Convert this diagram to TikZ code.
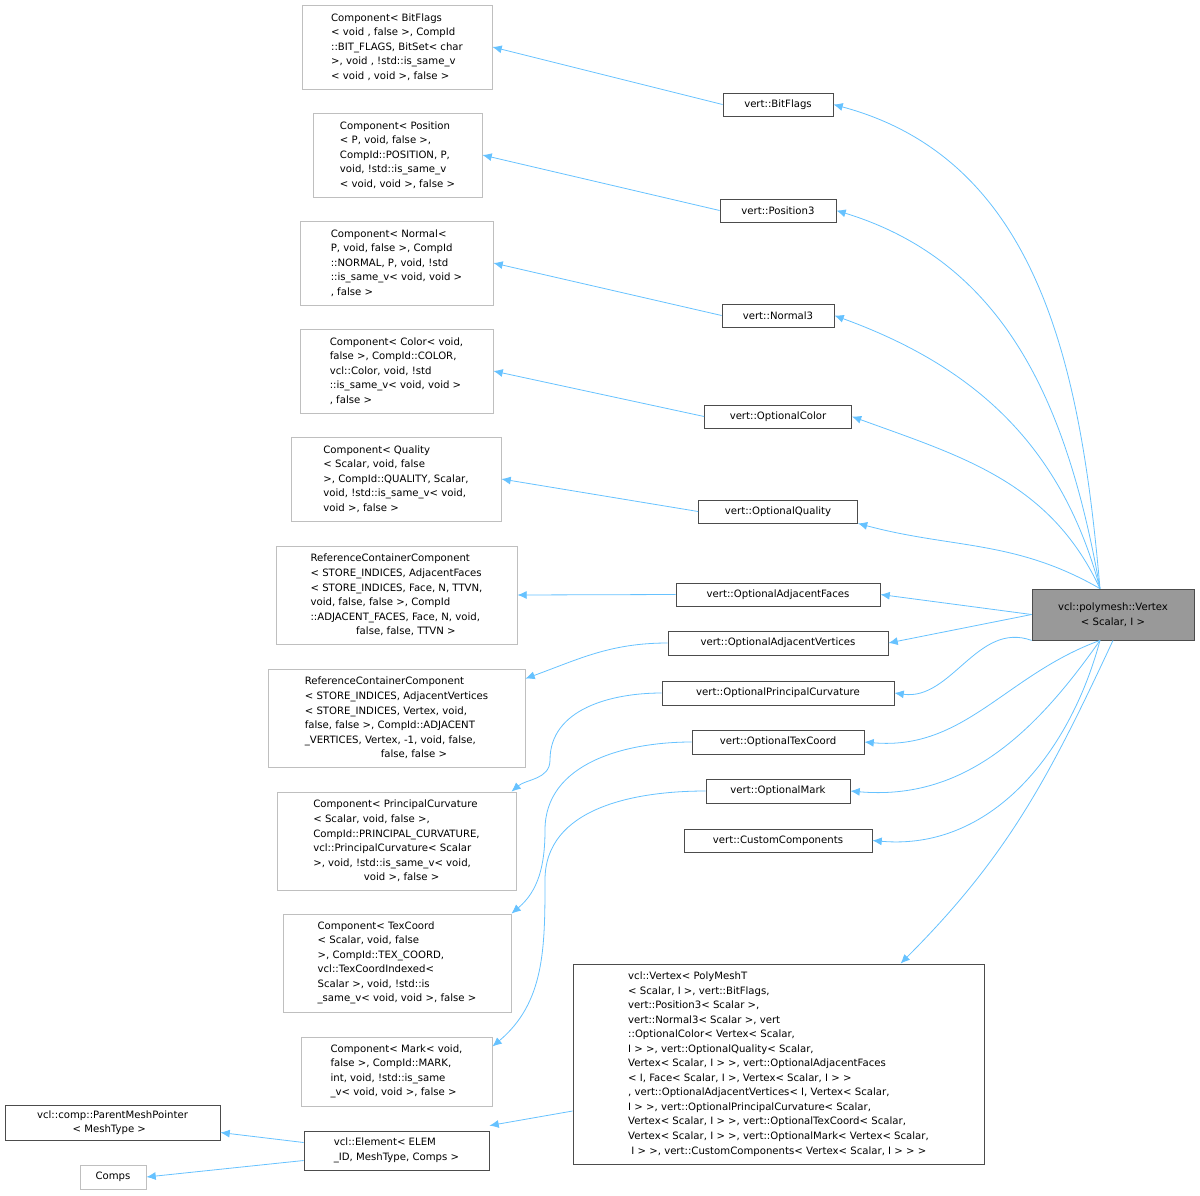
\documentclass[tikz,border=0pt]{standalone}
\usepackage{fontspec}
\setmainfont{DejaVu Sans}
\usetikzlibrary{arrows.meta,calc}
\begin{document}
\begin{tikzpicture}[x=0.75pt,y=-0.75pt,
 box/.style={draw=#1,fill=white,font=\fontsize{7.6}{10.9}\selectfont,align=left,inner sep=1pt,line width=0.6pt},
 box/.default={black!70},
 gbox/.style={box=black!25},
 e/.style={draw=blue!40!cyan!60!white,line width=0.6pt,-{Latex[length=7pt,width=6pt]}}]
\useasboundingbox (0,0) rectangle (1200,1196);
\newcommand\bx[6]{\node[#1,minimum width=#4*0.75pt,minimum height=#5*0.75pt] (#2) at #3 {#6};}
\bx{gbox}{cbf}{(397,47)}{190}{84}{Component< BitFlags\\< void , false  >, CompId\\::BIT\_FLAGS, BitSet< char\\ >, void , !std::is\_same\_v\\ < void , void >, false  >}
\bx{box}{bf}{(778,104.5)}{110}{23}{vert::BitFlags}
\bx{gbox}{cpo}{(397.5,155)}{169}{84}{Component< Position\\< P, void, false >,\\ CompId::POSITION, P,\\ void, !std::is\_same\_v\\ < void, void >, false >}
\bx{box}{po}{(778,210.5)}{116}{23}{vert::Position3}
\bx{gbox}{cno}{(396.5,263)}{193}{84}{Component< Normal<\\ P, void, false >, CompId\\::NORMAL, P, void, !std\\::is\_same\_v< void, void >\\, false >}
\bx{box}{no}{(778,315.5)}{112}{23}{vert::Normal3}
\bx{gbox}{cco}{(396.5,371)}{193}{84}{Component< Color< void,\\ false >, CompId::COLOR,\\ vcl::Color, void, !std\\::is\_same\_v< void, void >\\, false >}
\bx{box}{co}{(778,416.5)}{147}{23}{vert::OptionalColor}
\bx{gbox}{cqu}{(396,479)}{210}{84}{Component< Quality\\< Scalar, void, false\\ >, CompId::QUALITY, Scalar,\\ void, !std::is\_same\_v< void,\\ void >, false >}
\bx{box}{qu}{(778,511.5)}{159}{23}{vert::OptionalQuality}
\bx{gbox}{caf}{(396.5,595)}{241}{98}{ReferenceContainerComponent\\< STORE\_INDICES, AdjacentFaces\\< STORE\_INDICES, Face, N, TTVN,\\ void, false, false >, CompId\\::ADJACENT\_FACES, Face, N, void,\\ \hspace*{4.5em}false, false, TTVN >}
\bx{box}{af}{(778,594.5)}{204}{23}{vert::OptionalAdjacentFaces}
\bx{box}{av}{(778,643)}{220}{24}{vert::OptionalAdjacentVertices}
\bx{gbox}{cav}{(396.5,718)}{257}{98}{ReferenceContainerComponent\\< STORE\_INDICES, AdjacentVertices\\< STORE\_INDICES, Vertex, void,\\ false, false >, CompId::ADJACENT\\\_VERTICES, Vertex, -1, void, false,\\ \hspace*{7.5em}false, false >}
\bx{box}{pc}{(778,693)}{232}{24}{vert::OptionalPrincipalCurvature}
\bx{gbox}{cpc}{(396.5,841)}{239}{98}{Component< PrincipalCurvature\\< Scalar, void, false >,\\ CompId::PRINCIPAL\_CURVATURE,\\ vcl::PrincipalCurvature< Scalar\\ >, void, !std::is\_same\_v< void,\\ \hspace*{5em}void >, false >}
\bx{box}{tc}{(778,742)}{172}{24}{vert::OptionalTexCoord}
\bx{gbox}{ctc}{(397,963)}{228}{98}{Component< TexCoord\\< Scalar, void, false\\ >, CompId::TEX\_COORD,\\ vcl::TexCoordIndexed<\\ Scalar >, void, !std::is\\\_same\_v< void, void >, false >}
\bx{box}{mk}{(778,791)}{144}{24}{vert::OptionalMark}
\bx{box}{cc}{(778,840.5)}{188}{23}{vert::CustomComponents}
\bx{gbox}{cmk}{(396.5,1071.5)}{191}{69}{Component< Mark< void,\\ false >, CompId::MARK,\\ int, void, !std::is\_same\\ \_v< void, void >, false >}
\bx{box}{vv}{(778.5,1064)}{411}{200}{vcl::Vertex< PolyMeshT\\< Scalar, I >, vert::BitFlags,\\ vert::Position3< Scalar >,\\ vert::Normal3< Scalar >, vert\\::OptionalColor< Vertex< Scalar,\\ I > >, vert::OptionalQuality< Scalar,\\ Vertex< Scalar, I > >, vert::OptionalAdjacentFaces\\< I, Face< Scalar, I >, Vertex< Scalar, I > >\\, vert::OptionalAdjacentVertices< I, Vertex< Scalar,\\ I > >, vert::OptionalPrincipalCurvature< Scalar,\\ Vertex< Scalar, I > >, vert::OptionalTexCoord< Scalar,\\ Vertex< Scalar, I > >, vert::OptionalMark< Vertex< Scalar,\\ \ I > >, vert::CustomComponents< Vertex< Scalar, I > > >}
\node[box,fill=black!40,minimum width=162*0.75pt,minimum height=51*0.75pt,align=center] (V) at (1113,614.5) {vcl::polymesh::Vertex\\< Scalar, I >};
\bx{box}{el}{(396.5,1150.5)}{185}{39}{vcl::Element< ELEM\\\_ID, MeshType, Comps >}
\bx{box}{pm}{(112.5,1122.5)}{215}{35}{vcl::comp::ParentMeshPointer\\\hspace*{3.5em}< MeshType >}
\bx{gbox}{cs}{(113,1177)}{66}{24}{Comps}
\coordinate (s) at ($(V.north)+(-13,0)$);
\coordinate (sb) at ($(V.south)+(-13,0)$);
\draw[e] (s) to[out=95,in=-15] (bf.east);
\draw[e] (s) to[out=100,in=-17] (po.east);
\draw[e] (s) to[out=105,in=-20] (no.east);
\draw[e] (s) to[out=115,in=-20] (co.east);
\draw[e] (s) to[out=150,in=-15] (qu.south east);
\draw[e] (V.west) -- (af.east);
\draw[e] (V.west) -- (av.east);
\draw[e] (V.south west) to[out=160,in=-8] (pc.east);
\draw[e] (sb) to[out=200,in=-5] (tc.east);
\draw[e] (sb) to[out=235,in=-5] (mk.east);
\draw[e] (sb) to[out=255,in=-5] (cc.east);
\draw[e] (V.south) to[out=-115,in=45] ($(vv.north)+(122,0)$);
\draw[e] (bf.west) -- (cbf.east);
\draw[e] (po.west) -- (cpo.east);
\draw[e] (no.west) -- (cno.east);
\draw[e] (co.west) -- (cco.east);
\draw[e] (qu.west) -- (cqu.east);
\draw[e] (af.west) -- (caf.east);
\draw[e] (av.west) to[out=180,in=20] ($(cav.north east)+(0,10)$);
\draw[e] (pc.west) to[out=180,in=90] (550,760) to[out=-90,in=40] ($(cpc.north east)+(-5,0)$);
\draw[e] (tc.west) to[out=180,in=90] (545,830) to[out=-90,in=40] (ctc.north east);
\draw[e] (mk.west) to[out=180,in=90] (545,880) to[out=-90,in=40] ($(cmk.east)+(0,-25)$);
\draw[e] ($(vv.west)+(0,47)$) -- ($(el.north east)+(0,-5)$);
\draw[e] ($(el.west)+(0,-8)$) -- ($(pm.east)+(0,10)$);
\draw[e] ($(el.west)+(0,10)$) -- (cs.east);
\end{tikzpicture}
\end{document}
